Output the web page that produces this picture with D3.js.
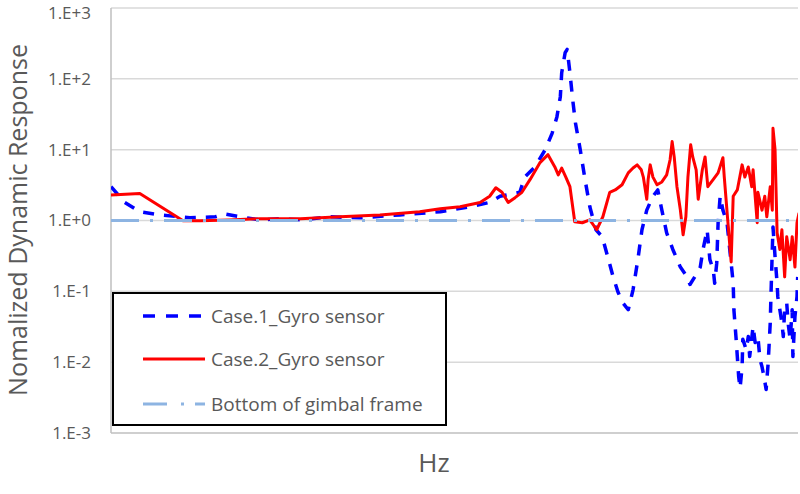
<!DOCTYPE html>
<html>
<head>
<meta charset="utf-8">
<script src="https://cdn.jsdelivr.net/npm/d3@7"></script>
<style>
  body { margin: 0; background: #fff; }
  svg text { font-family: "Open Sans", sans-serif; fill: #595959; }
</style>
</head>
<body>
<svg id="chart" width="800" height="494"></svg>
<script>
// response values on a log scale; Hz values (0-1000)
const tickValues = [1e-3, 1e-2, 1e-1, 1, 1e1, 1e2, 1e3];
const seriesNames = ["Case.1_Gyro sensor", "Case.2_Gyro sensor", "Bottom of gimbal frame"];

const case1Hz = [0, 20, 42, 71, 115, 152, 166, 188, 217, 246, 276, 319, 363, 421, 480, 523, 552, 567, 596, 603,
  618, 633, 643, 650, 655, 657, 662, 665, 669, 673, 677, 684, 691, 698, 707, 716, 724, 732, 739, 746,
  754, 761, 768, 774, 781, 790, 797, 803, 810, 819, 830, 840, 844, 851, 859, 863, 869, 873, 878, 880,
  883, 885, 888, 892, 898, 902, 907, 908, 911, 913, 915, 917, 920, 921, 926, 929, 931, 936, 939, 943,
  946, 949, 952, 955, 958, 961, 962, 964, 965, 968, 971, 972, 975, 978, 980, 982, 985, 987, 990, 993,
  994, 997, 1000, 1001];
const case1Resp = [3.0, 1.8, 1.33, 1.2, 1.09, 1.13, 1.24, 1.13, 1.02, 1.06, 1.02, 1.13, 1.09, 1.2, 1.33, 1.56, 1.8, 2.2, 2.5, 4.1,
  5.7, 10, 17, 29, 56, 122, 234, 260, 122, 51, 24, 10, 3.8, 1.56, 0.74, 0.59, 0.31, 0.16, 0.098, 0.069,
  0.055, 0.105, 0.28, 0.74, 1.4, 2.2, 2.7, 1.4, 0.67, 0.39, 0.22, 0.16, 0.125, 0.16, 0.22, 0.39, 0.74, 0.28, 0.20, 0.13,
  0.25, 0.93, 2.2, 1.4, 0.93, 0.39, 0.13, 0.055, 0.023, 0.012, 0.0062, 0.0043, 0.0086, 0.021, 0.015, 0.023, 0.012, 0.032, 0.019, 0.023,
  0.011, 0.0086, 0.0062, 0.0041, 0.0098, 0.036, 0.084, 0.39, 0.81, 0.31, 0.13, 0.084, 0.055, 0.036, 0.023, 0.055, 0.069, 0.036, 0.021, 0.055,
  0.012, 0.044, 0.084, 0.16];

const case2Hz = [0, 42, 105, 130, 173, 217, 276, 334, 392, 450, 480, 509, 538, 552, 561, 570, 579, 589, 599, 611,
  625, 637, 647, 652, 657, 663, 669, 676, 687, 698, 708, 717, 727, 735, 745, 754, 761, 767, 773, 776,
  781, 783, 786, 790, 796, 803, 810, 815, 818, 821, 825, 830, 834, 838, 841, 845, 848, 853, 856, 862,
  866, 870, 878, 885, 892, 894, 899, 904, 907, 913, 920, 924, 929, 934, 936, 942, 943, 949, 953, 956,
  961, 964, 965, 968, 971, 975, 978, 982, 985, 990, 993, 997, 1000, 1003];
const case2Resp = [2.3, 2.4, 0.99, 0.99, 1.02, 1.06, 1.06, 1.13, 1.2, 1.33, 1.46, 1.56, 1.8, 2.2, 2.9, 2.5, 1.8, 2.1, 2.5, 3.8,
  6.5, 8.5, 5.7, 4.4, 5.5, 4.1, 3.0, 0.96, 0.93, 1.02, 0.74, 1.13, 2.5, 2.7, 3.2, 4.7, 5.5, 6.1, 5.2, 4.1,
  2.0, 3.8, 6.1, 4.1, 3.2, 3.5, 4.4, 7.2, 13, 7.9, 3.0, 1.4, 0.63, 1.13, 4.1, 11.7, 7.9, 5.2, 2.0, 5.2,
  7.9, 3.0, 3.8, 4.7, 7.7, 4.1, 1.02, 0.26, 2.2, 2.7, 6.1, 4.1, 5.7, 3.0, 5.2, 0.93, 2.5, 1.4, 2.2, 1.13,
  3.0, 1.4, 20, 10, 0.67, 0.39, 0.74, 0.16, 0.59, 0.28, 0.59, 0.22, 0.93, 1.28];

const gimbalHz = [0, 1003];
const gimbalResp = [1, 1];

const svg = d3.select("#chart");
const margin = {top: 8, right: 2, bottom: 61, left: 111};
const width = 800 - margin.left - margin.right;
const height = 494 - margin.top - margin.bottom;

const x = d3.scaleLinear().domain([0, 1000]).range([0, 686]);
const y = d3.scaleLog().domain([1e-3, 1e3]).range([height, 0]);

const g = svg.append("g").attr("transform", `translate(${margin.left},${margin.top})`);

svg.append("defs").append("clipPath").attr("id", "plot-clip")
  .append("rect").attr("x", 0).attr("y", -4).attr("width", width).attr("height", height + 8);

// gridlines
g.append("g")
  .selectAll("line")
  .data(tickValues.slice(1))
  .join("line")
    .attr("x1", 0).attr("x2", width)
    .attr("y1", d => y(d)).attr("y2", d => y(d))
    .attr("stroke", "#d9d9d9")
    .attr("stroke-width", 1.5);

// axis lines
g.append("line").attr("x1", 0).attr("x2", width).attr("y1", height).attr("y2", height)
  .attr("stroke", "#bfbfbf").attr("stroke-width", 1.5);
g.append("line").attr("x1", 0).attr("x2", 0).attr("y1", 0).attr("y2", height)
  .attr("stroke", "#bfbfbf").attr("stroke-width", 1.5);

const fmt = d => {
  const e = Math.round(Math.log10(d));
  return "1.E" + (e >= 0 ? "+" : "-") + Math.abs(e);
};

const yAxis = d3.axisLeft(y).tickValues(tickValues).tickFormat(fmt).tickSize(0).tickPadding(20);
const yAxisG = g.append("g").call(yAxis);
yAxisG.select(".domain").remove();
yAxisG.selectAll("text").style("font-size", "17px").attr("fill", "#595959");
// keep the top label inside the picture
yAxisG.selectAll("text").filter(d => d === 1e3).attr("dy", "0.6em");

// series
const styles = [
  {color: "#0000ff", width: 3.5, dash: "11,10"},
  {color: "#ff0000", width: 3, dash: null},
  {color: "#8db4e2", width: 3, dash: "28,11,3,11"}
];
const seriesData = [
  d3.zip(case1Hz, case1Resp),
  d3.zip(case2Hz, case2Resp),
  d3.zip(gimbalHz, gimbalResp)
];

const line = d3.line().x(d => x(d[0])).y(d => y(d[1]));

const plot = g.append("g").attr("clip-path", "url(#plot-clip)");
seriesData.forEach((data, i) => {
  plot.append("path")
    .datum(data)
    .attr("fill", "none")
    .attr("stroke", styles[i].color)
    .attr("stroke-width", styles[i].width)
    .attr("stroke-linejoin", "round")
    .attr("stroke-dasharray", styles[i].dash);
});
plot.selectAll("path").attr("d", line);

// legend
const legend = svg.append("g").attr("transform", "translate(113,293)");
legend.append("rect")
  .attr("width", 333).attr("height", 132)
  .attr("fill", "#fff").attr("stroke", "#000").attr("stroke-width", 2);

const rowY = [23, 66, 111];
seriesNames.forEach((name, i) => {
  const row = legend.append("g").attr("transform", `translate(0,${rowY[i]})`);
  row.append("line")
    .attr("x1", 30).attr("x2", 92).attr("y1", 0).attr("y2", 0)
    .attr("stroke", styles[i].color)
    .attr("stroke-width", styles[i].width)
    .attr("stroke-dasharray", i === 0 ? "12,11" : i === 2 ? "24,14,3,11" : null);
  row.append("text")
    .attr("x", 98).attr("y", 0).attr("dy", "0.35em")
    .style("font-size", "19px")
    .text(name);
});

// axis titles
svg.append("text")
  .attr("transform", "translate(27,220) rotate(-90)")
  .attr("text-anchor", "middle")
  .style("font-size", "25px")
  .text("Nomalized Dynamic Response");

svg.append("text")
  .attr("x", 434).attr("y", 472)
  .attr("text-anchor", "middle")
  .style("font-size", "26px")
  .text("Hz");
</script>
</body>
</html>
